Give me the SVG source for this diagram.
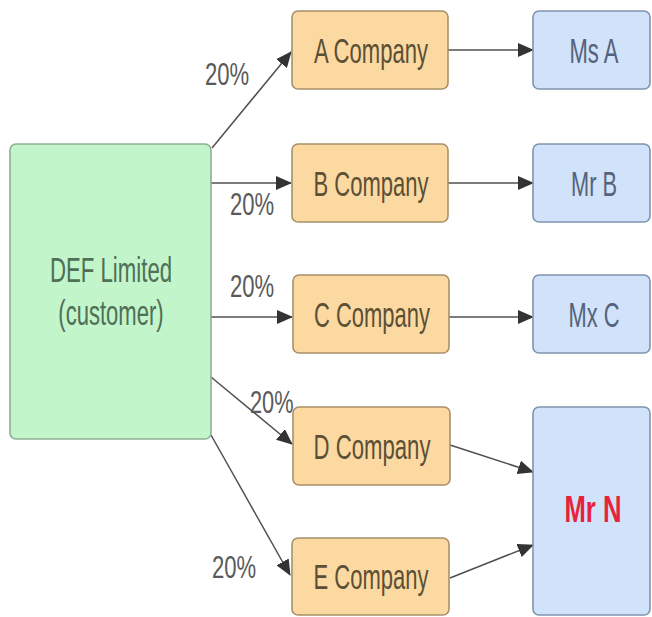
<svg xmlns="http://www.w3.org/2000/svg" width="652" height="617" viewBox="0 0 652 617">
<style>
.box{stroke-width:1.6}
.def{fill:#c2f5ca;stroke:#8fae95}
.co{fill:#fdd9a2;stroke:#a8906a}
.pe{fill:#d0e3fb;stroke:#8194ad}
text{font-family:"Liberation Sans",Arial,sans-serif;font-size:35px;text-anchor:middle}
.tdef{fill:#4f6f57}
.tco{fill:#5b5036}
.tpe{fill:#56627a}
.lbl{fill:#5a5a5a;font-size:32px;text-anchor:start}
.red{fill:#e8223c;font-weight:bold;font-size:36px}
.ln{stroke:#505050;stroke-width:1.5;fill:none;marker-end:url(#ah)}
</style>
<defs>
<marker id="ah" markerUnits="userSpaceOnUse" markerWidth="16" markerHeight="14" refX="15" refY="7" orient="auto">
<path d="M0,0 L16,7 L0,14 Z" fill="#333"/>
</marker>
</defs>
<rect width="652" height="617" fill="#fff"/>
<g id="connectors">
<line class="ln" x1="212" y1="148" x2="291" y2="52"/>
<line class="ln" x1="211" y1="183" x2="291" y2="183"/>
<line class="ln" x1="211" y1="317" x2="292" y2="317"/>
<line class="ln" x1="211" y1="377" x2="292" y2="444"/>
<line class="ln" x1="211" y1="435" x2="290" y2="575"/>
<line class="ln" x1="448" y1="50" x2="533" y2="50"/>
<line class="ln" x1="448" y1="183" x2="533" y2="183"/>
<line class="ln" x1="449" y1="317" x2="533" y2="317"/>
<line class="ln" x1="450" y1="445" x2="533" y2="472"/>
<line class="ln" x1="450" y1="578" x2="533" y2="545"/>
</g>
<g id="labels">
<text class="lbl" transform="translate(205,85) scale(0.69,1)">20%</text>
<text class="lbl" transform="translate(230,215) scale(0.69,1)">20%</text>
<text class="lbl" transform="translate(230,297) scale(0.69,1)">20%</text>
<text class="lbl" transform="translate(250,413) scale(0.68,1)">20%</text>
<text class="lbl" transform="translate(212,578) scale(0.69,1)">20%</text>
</g>
<g id="def">
<rect class="box def" x="10" y="144" width="201" height="295" rx="6"/>
<text class="tdef" transform="translate(111,282) scale(0.635,1)">DEF Limited</text>
<text class="tdef" transform="translate(111,325) scale(0.63,1)">(customer)</text>
</g>
<g id="a-company">
<rect class="box co" x="292" y="11" width="156" height="78" rx="6"/>
<text class="tco" x="371" y="63" textLength="114" lengthAdjust="spacingAndGlyphs">A Company</text>
</g>
<g id="b-company">
<rect class="box co" x="292" y="144" width="156" height="78" rx="6"/>
<text class="tco" x="371" y="196" textLength="115" lengthAdjust="spacingAndGlyphs">B Company</text>
</g>
<g id="c-company">
<rect class="box co" x="293" y="275" width="156" height="78" rx="6"/>
<text class="tco" x="372" y="327" textLength="116" lengthAdjust="spacingAndGlyphs">C Company</text>
</g>
<g id="d-company">
<rect class="box co" x="293" y="407" width="157" height="78" rx="6"/>
<text class="tco" x="372" y="459" textLength="117" lengthAdjust="spacingAndGlyphs">D Company</text>
</g>
<g id="e-company">
<rect class="box co" x="292" y="538" width="157" height="77" rx="6"/>
<text class="tco" x="371" y="589" textLength="115" lengthAdjust="spacingAndGlyphs">E Company</text>
</g>
<g id="ms-a">
<rect class="box pe" x="533" y="11" width="117" height="78" rx="6"/>
<text class="tpe" x="594" y="63" textLength="49" lengthAdjust="spacingAndGlyphs">Ms A</text>
</g>
<g id="mr-b">
<rect class="box pe" x="533" y="144" width="117" height="78" rx="6"/>
<text class="tpe" x="594" y="196" textLength="46" lengthAdjust="spacingAndGlyphs">Mr B</text>
</g>
<g id="mx-c">
<rect class="box pe" x="533" y="275" width="117" height="78" rx="6"/>
<text class="tpe" x="594" y="327" textLength="51" lengthAdjust="spacingAndGlyphs">Mx C</text>
</g>
<g id="mr-n">
<rect class="box pe" x="533" y="407" width="117" height="208" rx="6"/>
<text class="red" x="593" y="522" textLength="57" lengthAdjust="spacingAndGlyphs">Mr N</text>
</g>
</svg>
